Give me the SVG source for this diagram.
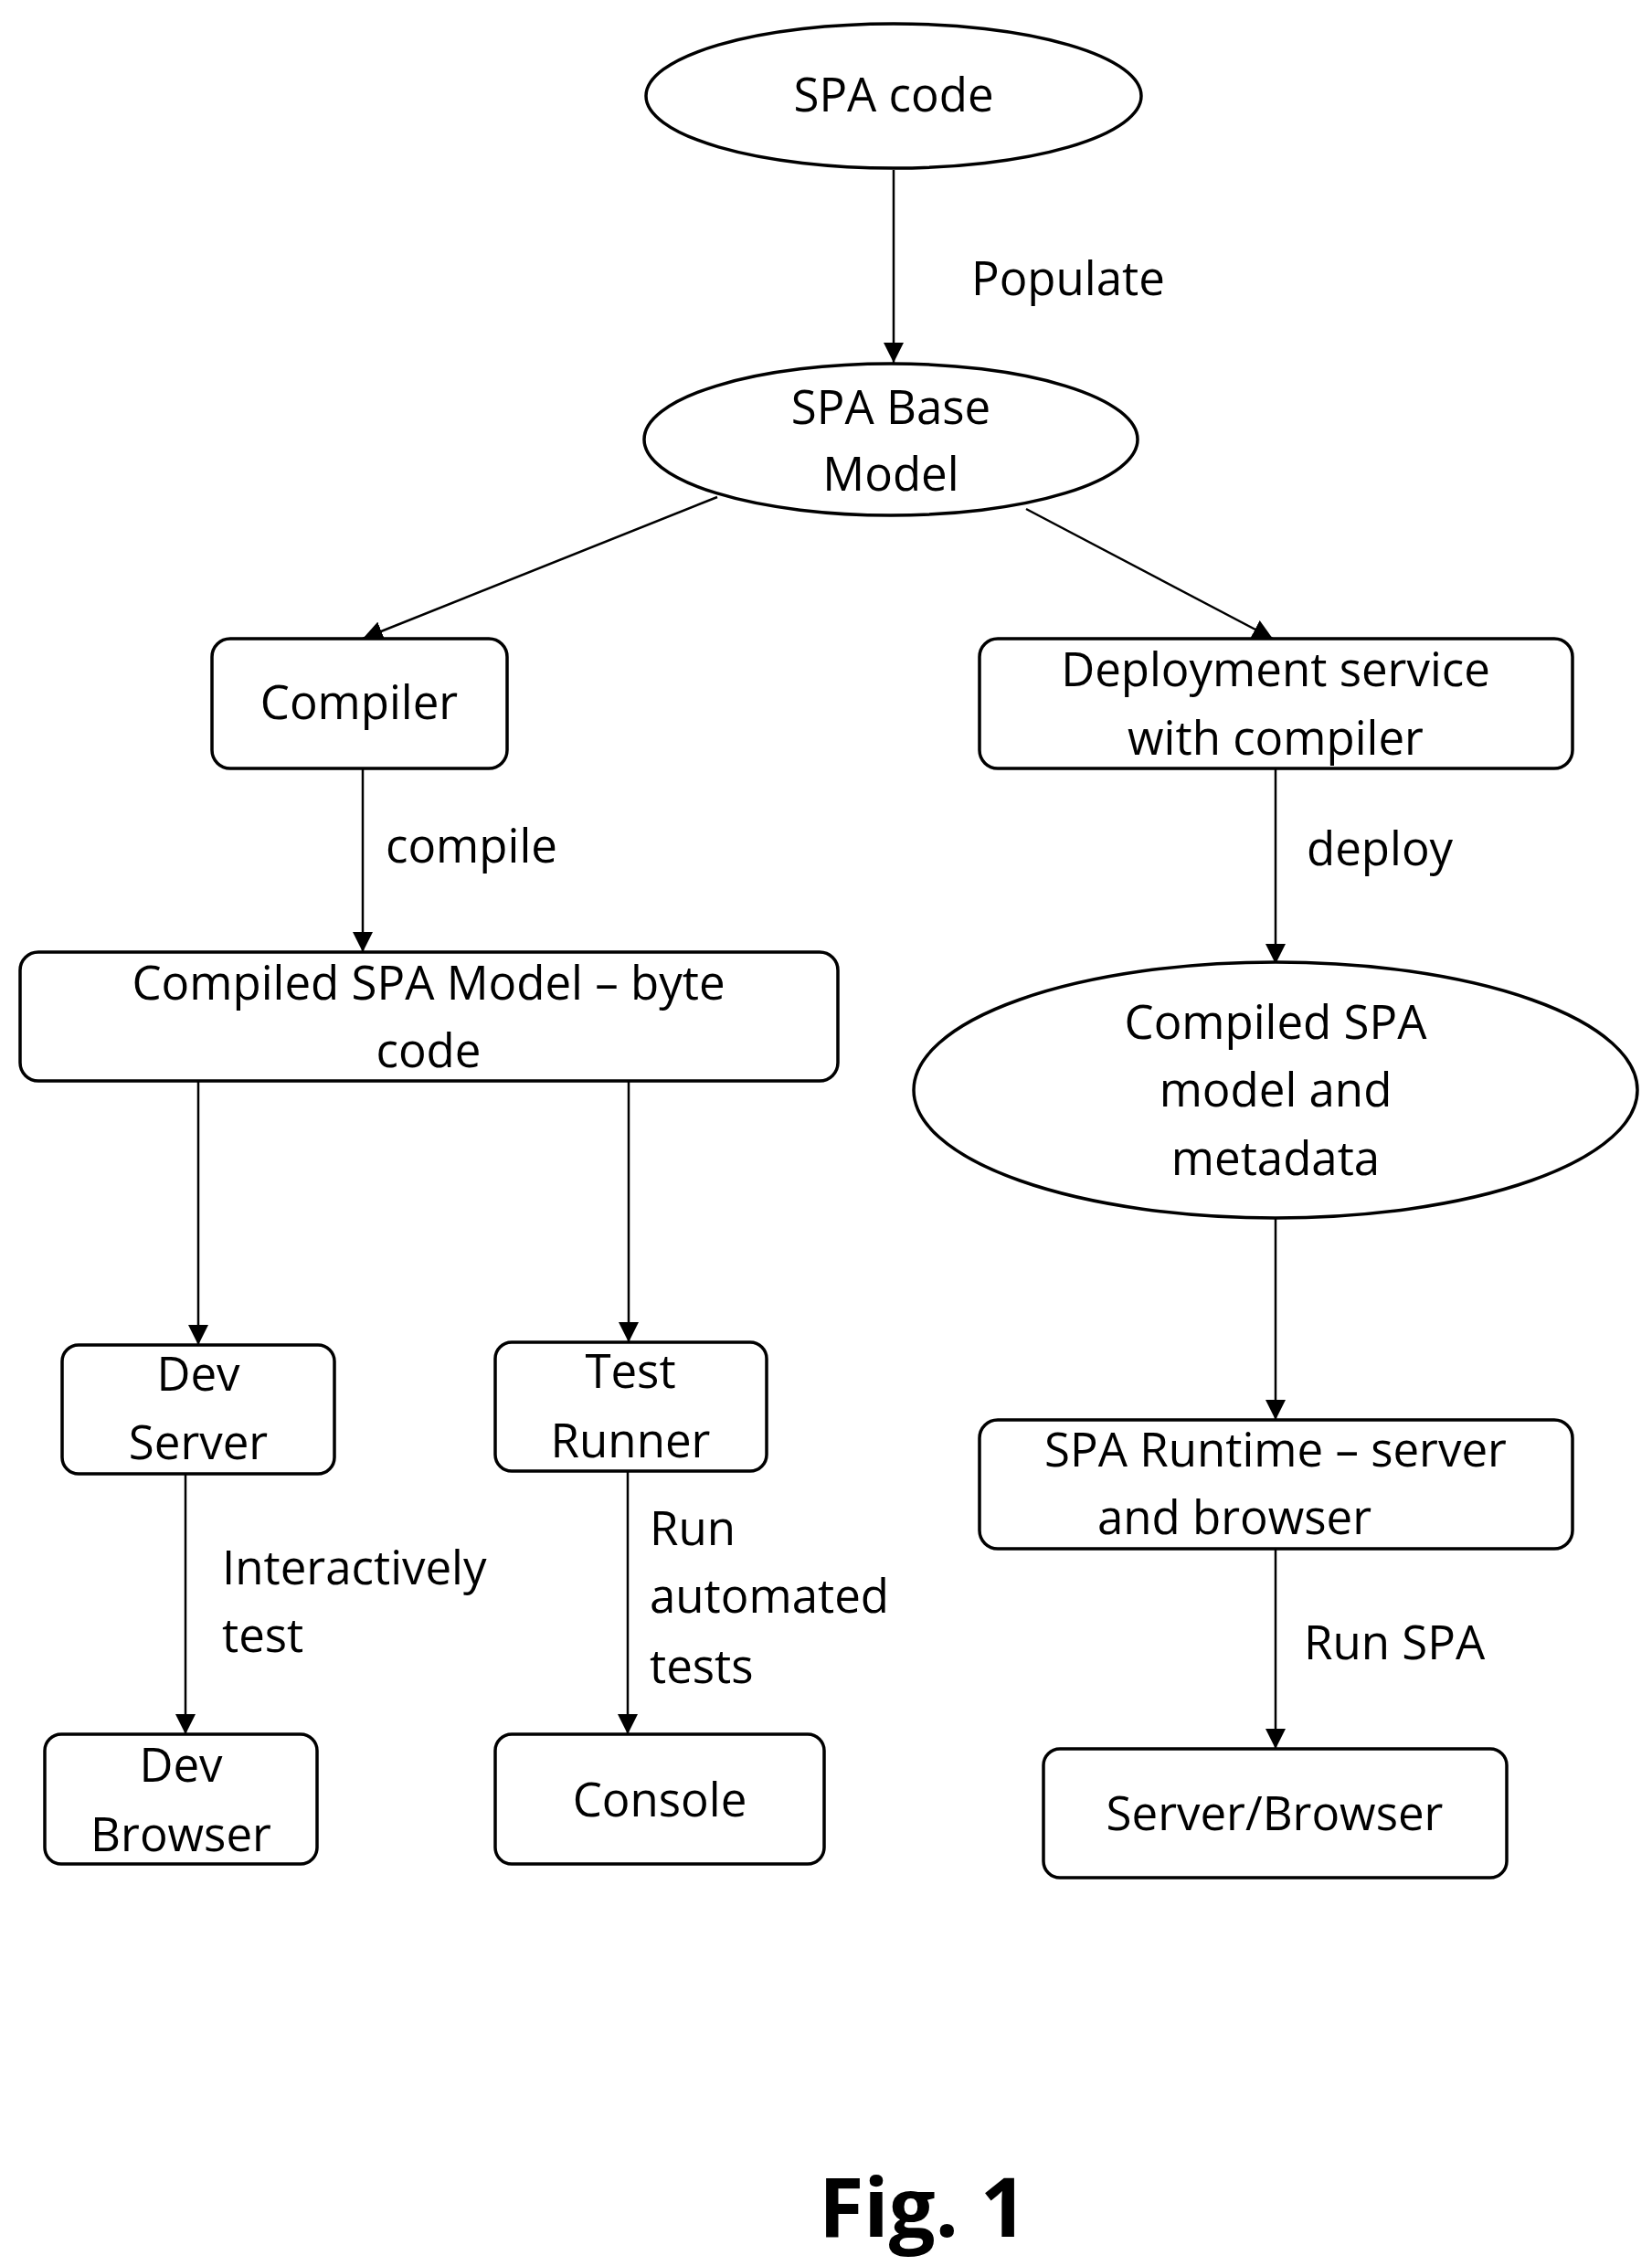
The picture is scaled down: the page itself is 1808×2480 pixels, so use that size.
<svg xmlns="http://www.w3.org/2000/svg" width="1808" height="2480" viewBox="0 0 1808 2480">
<style>
.n{fill:#fff;stroke:#000;stroke-width:3.5}
text{font-family:"Open Sans","Liberation Sans",Arial,sans-serif;font-size:51px;fill:#000}
.c{text-anchor:middle}
.e line{stroke:#000;stroke-width:2.5;marker-end:url(#b)}
</style>
<defs>
<marker id="b" viewBox="0 0 10 10" refX="10" refY="5" markerWidth="22" markerHeight="22" markerUnits="userSpaceOnUse" orient="auto"><path d="M0,0L10,5L0,10z" fill="#000"/></marker></defs>
<rect width="1808" height="2480" fill="#fff"/>
<g class="e" id="connectors">
<line x1="978" y1="186" x2="978" y2="397"/>
<line x1="785" y1="544" x2="397" y2="699"/>
<line x1="1123" y1="557" x2="1393" y2="699"/>
<line x1="397" y1="841" x2="397" y2="1042"/>
<line x1="1396" y1="841" x2="1396" y2="1055"/>
<line x1="217" y1="1183" x2="217" y2="1472"/>
<line x1="688" y1="1183" x2="688" y2="1469"/>
<line x1="1396" y1="1333" x2="1396" y2="1554"/>
<line x1="203" y1="1613" x2="203" y2="1898"/>
<line x1="687" y1="1610" x2="687" y2="1898"/>
<line x1="1396" y1="1695" x2="1396" y2="1914"/>
</g>
<g id="labels">
<text x="1063" y="323">Populate</text>
<text x="422" y="944">compile</text>
<text x="1430" y="947">deploy</text>
<text x="243" y="1734">Interactively</text>
<text x="243" y="1808">test</text>
<text x="711" y="1691">Run</text>
<text x="711" y="1765">automated</text>
<text x="711" y="1842">tests</text>
<text x="1427" y="1816">Run SPA</text>
</g>
<g id="spa-code"><ellipse class="n" cx="978" cy="105" rx="271" ry="79"/><text class="c" x="978" y="122">SPA code</text></g>
<g id="spa-base"><ellipse class="n" cx="975" cy="481" rx="270" ry="83"/><text class="c" x="975" y="464">SPA Base</text><text class="c" x="975" y="537">Model</text></g>
<g id="compiler"><rect class="n" x="232" y="699" width="323" height="142" rx="20"/><text class="c" x="393" y="787">Compiler</text></g>
<g id="deploy"><rect class="n" x="1072" y="699" width="649" height="142" rx="20"/><text class="c" x="1396" y="751">Deployment service</text><text class="c" x="1396" y="826">with compiler</text></g>
<g id="compiled-model"><rect class="n" x="22" y="1042" width="895" height="141" rx="20"/><text class="c" x="469" y="1094">Compiled SPA Model – byte</text><text class="c" x="469" y="1168">code</text></g>
<g id="compiled-meta"><ellipse class="n" cx="1396" cy="1193" rx="396" ry="140"/><text class="c" x="1396" y="1137">Compiled SPA</text><text class="c" x="1396" y="1211">model and</text><text class="c" x="1396" y="1286">metadata</text></g>
<g id="dev-server"><rect class="n" x="68" y="1472" width="298" height="141" rx="18"/><text class="c" x="217" y="1522">Dev</text><text class="c" x="217" y="1597">Server</text></g>
<g id="test-runner"><rect class="n" x="542" y="1469" width="297" height="141" rx="18"/><text class="c" x="690" y="1519">Test</text><text class="c" x="690" y="1595">Runner</text></g>
<g id="runtime"><rect class="n" x="1072" y="1554" width="649" height="141" rx="20"/><text class="c" x="1396" y="1605">SPA Runtime – server</text><text class="c" x="1351" y="1679">and browser</text></g>
<g id="dev-browser"><rect class="n" x="49" y="1898" width="298" height="142" rx="18"/><text class="c" x="198" y="1950">Dev</text><text class="c" x="198" y="2026">Browser</text></g>
<g id="console"><rect class="n" x="542" y="1898" width="360" height="142" rx="18"/><text class="c" x="722" y="1988">Console</text></g>
<g id="server-browser"><rect class="n" x="1142" y="1914" width="507" height="141" rx="18"/><text class="c" x="1395" y="2003">Server/Browser</text></g>
<text class="c" x="1010" y="2448" style="font-size:90px;font-weight:bold">Fig. 1</text>
</svg>
